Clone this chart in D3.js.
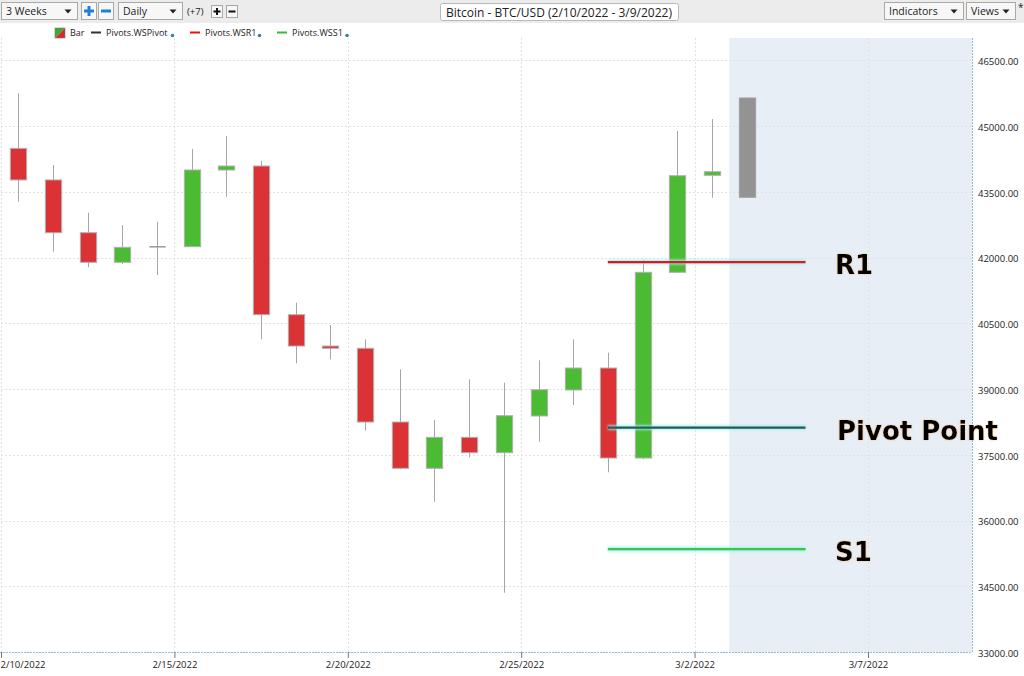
<!DOCTYPE html>
<html><head><meta charset="utf-8">
<script src="https://cdn.jsdelivr.net/npm/d3@7"></script>
<style>
html,body{margin:0;padding:0;background:#fff;}
svg{display:block;}
</style></head>
<body>
<svg id="c" width="1024" height="676"></svg>
<script>
// ---- data ----
const dates = ["2022-02-10","2022-02-11","2022-02-12","2022-02-13","2022-02-14","2022-02-15","2022-02-16","2022-02-17","2022-02-18","2022-02-19","2022-02-20","2022-02-21","2022-02-22","2022-02-23","2022-02-24","2022-02-25","2022-02-26","2022-02-27","2022-02-28","2022-03-01","2022-03-02","2022-03-03"];
const opens  = [44490,43770,42566,41891,42245,42247,43997,44088,40696,39981,39929,38247,37191,37898,37547,38385,38978,39479,37426,41663,43876,43374];
const highs  = [45747,44110,43023,42742,42817,44476,44773,44202,40969,40461,40134,39450,38293,39222,39144,39655,40134,39829,41943,44887,45160,45640];
const lows   = [43274,42133,41777,41852,41601,42240,43388,40134,39587,39678,38049,37168,36429,37442,34353,37798,38635,37100,37396,41663,43365,43374];
const closes = [43770,42566,41891,42233,42245,43997,44088,40696,39981,39929,38247,37191,37898,37547,38391,38984,39479,37426,41663,43867,43958,45640];
const pending = [false,false,false,false,false,false,false,false,false,false,false,false,false,false,false,false,false,false,false,false,false,true];
const pivotNames = ["R1","Pivot Point","S1"];
const pivotValues = [41897,38121,35345];
const pivotStart = "2022-02-27";
const pivotEnd = "2022-03-05";
const yTicks = [33000,34500,36000,37500,39000,40500,42000,43500,45000,46500];
const xTicks = ["2022-02-10","2022-02-15","2022-02-20","2022-02-25","2022-03-02","2022-03-07"];
const legendItems = ["Bar","Pivots.WSPivot","Pivots.WSR1","Pivots.WSS1"];
const futureStart = "2022-03-03";

// ---- setup ----
const svg = d3.select("#c");
const parse = d3.timeParse("%Y-%m-%d");
const fmtX = d3.timeFormat("%-m/%-d/%Y");
const plotL = 1, plotR = 972, plotT = 38, plotB = 652;
const x = d3.scaleTime().domain([parse("2022-02-10"), parse("2022-03-10")]).range([plotL, plotR]);
const y = d3.scaleLinear().domain([33000, 46500]).range([652, 60.3]);
const day = x(parse("2022-02-11")) - x(parse("2022-02-10"));
const bodyW = day * 0.47;
const mid = d => d3.timeHour.offset(parse(d), 12);

const defs = svg.append("defs");
const blur = defs.append("filter").attr("id","blur").attr("filterUnits","userSpaceOnUse")
  .attr("x",0).attr("y",0).attr("width",1024).attr("height",676);
blur.append("feGaussianBlur").attr("stdDeviation","1.3");

const halo = defs.append("filter").attr("id","halo").attr("x","-10%").attr("y","-20%").attr("width","120%").attr("height","140%");
halo.append("feGaussianBlur").attr("in","SourceAlpha").attr("stdDeviation","0.8").attr("result","b");
halo.append("feFlood").attr("flood-color","#f0a050").attr("flood-opacity","0.55");
halo.append("feComposite").attr("in2","b").attr("operator","in").attr("result","g");
const hm = halo.append("feMerge");
hm.append("feMergeNode").attr("in","g");
hm.append("feMergeNode").attr("in","SourceGraphic");

// ---- toolbar ----
svg.append("rect").attr("x",0).attr("y",0).attr("width",1024).attr("height",23).attr("fill","#ececec");
const tb = svg.append("g").attr("font-family","'Open Sans', 'Noto Sans', sans-serif").attr("font-size",10.5).attr("fill","#222");
function dropdown(x0, w, label, arrowX){
  tb.append("rect").attr("x",x0+0.5).attr("y",2.5).attr("width",w).attr("height",17).attr("fill","#f7f7f7").attr("stroke","#a9a9a9");
  tb.append("text").attr("x",x0+5).attr("y",15).text(label);
  const ax = x0 + (arrowX || (w-9));
  tb.append("path").attr("d",`M${ax-3.5},9.5 L${ax+3.5},9.5 L${ax},13.5 Z`).attr("fill","#222");
}
dropdown(1,76,"3 Weeks");
dropdown(118,64,"Daily");
dropdown(884,79,"Indicators");
dropdown(966,49,"Views",40);
tb.append("text").attr("x",1018).attr("y",11).attr("font-size",10).text("*");
function btn(x0,sym,col){
  tb.append("rect").attr("x",x0+0.5).attr("y",2.5).attr("width",15).attr("height",17).attr("fill","#f7f7f7").attr("stroke","#a9a9a9");
  const cx = x0+8, cy = 11;
  tb.append("rect").attr("x",cx-5).attr("y",cy-1.5).attr("width",10).attr("height",3).attr("fill",col);
  if(sym==="+") tb.append("rect").attr("x",cx-1.5).attr("y",cy-5).attr("width",3).attr("height",10).attr("fill",col);
}
btn(81,"+","#1e7fd6");
btn(98,"-","#1e7fd6");
tb.append("text").attr("x",187).attr("y",15).attr("font-size",9.5).text("(+7)");
function smallBtn(x0,sym){
  tb.append("rect").attr("x",x0+0.5).attr("y",5.5).attr("width",11).attr("height",12).attr("fill","#f7f7f7").attr("stroke","#a9a9a9");
  const cx=x0+6, cy=11.5;
  tb.append("rect").attr("x",cx-3.5).attr("y",cy-1).attr("width",7).attr("height",2).attr("fill","#111");
  if(sym==="+") tb.append("rect").attr("x",cx-1).attr("y",cy-3.5).attr("width",2).attr("height",7).attr("fill","#111");
}
smallBtn(211,"+");
smallBtn(226,"-");
tb.append("rect").attr("x",440.5).attr("y",3.5).attr("width",238).attr("height",17).attr("rx",2).attr("fill","#fff").attr("stroke","#b8b8b8");
tb.append("text").attr("x",559).attr("y",16.5).attr("text-anchor","middle").attr("font-size",12).text("Bitcoin - BTC/USD (2/10/2022 - 3/9/2022)");

// ---- plot background ----
svg.append("rect").attr("x",x(parse(futureStart))).attr("y",plotT).attr("width",plotR - x(parse(futureStart))).attr("height",plotB-plotT).attr("fill","#e8eef5");

// gridlines
const grid = svg.append("g").attr("stroke","#e2e2e2").attr("stroke-dasharray","2,2").attr("stroke-width",1);
yTicks.forEach(t=>{
  grid.append("line").attr("x1",plotL).attr("x2",plotR).attr("y1",Math.round(y(t))+0.5).attr("y2",Math.round(y(t))+0.5);
});
xTicks.forEach(t=>{
  const xx = Math.round(x(parse(t)))+0.5;
  grid.append("line").attr("x1",xx).attr("x2",xx).attr("y1",plotT).attr("y2",plotB);
});
svg.append("line").attr("x1",plotR+0.5).attr("x2",plotR+0.5).attr("y1",plotT).attr("y2",plotB).attr("stroke","#8fbde6").attr("stroke-dasharray","2,1");
svg.append("line").attr("x1",0).attr("x2",plotR).attr("y1",plotB+0.5).attr("y2",plotB+0.5).attr("stroke","#8fbde6").attr("stroke-dasharray","2,1");

// axes via d3
const xAxis = d3.axisBottom(x).tickValues(xTicks.map(parse)).tickFormat(fmtX).tickSize(6).tickPadding(3);
const gx = svg.append("g").attr("transform",`translate(0,${plotB})`).call(xAxis);
gx.select(".domain").remove();
gx.selectAll(".tick line").attr("stroke","#777");
gx.selectAll("text").attr("font-family","'Open Sans','Noto Sans',sans-serif").attr("font-size",9.5).attr("fill","#222");
gx.selectAll("text").filter((d,i)=>i===0).attr("text-anchor","start").attr("x",-1);

const yAxis = d3.axisRight(y).tickValues(yTicks).tickFormat(d3.format(".2f")).tickSize(0).tickPadding(6);
const gy = svg.append("g").attr("transform",`translate(${plotR},0)`).call(yAxis);
gy.select(".domain").remove();
gy.selectAll("text").attr("font-family","'Open Sans','Noto Sans',sans-serif").attr("font-size",9.5).attr("fill","#222").attr("dy","0.45em");

// ---- candles ----
const data = dates.map((d,i)=>({d, o:opens[i], h:highs[i], l:lows[i], c:closes[i], p:pending[i]}));
const cg = svg.append("g");
data.forEach(k=>{
  const cx = Math.round(x(mid(k.d)))+0.5;
  if(!k.p){
    cg.append("line").attr("x1",cx).attr("x2",cx).attr("y1",y(k.h)).attr("y2",y(k.l)).attr("stroke","#a6a6a6").attr("stroke-width",1);
  }
  const top = y(Math.max(k.o,k.c)), bot = y(Math.min(k.o,k.c));
  let fill = k.c > k.o ? "#4cbb34" : "#db3236";
  if(k.p) fill = "#939393";
  if(k.c === k.o){
    cg.append("line").attr("x1",cx-bodyW/2).attr("x2",cx+bodyW/2).attr("y1",top).attr("y2",top).attr("stroke","#999").attr("stroke-width",1.5);
  } else {
    cg.append("rect").attr("x",cx-bodyW/2).attr("y",top).attr("width",bodyW).attr("height",Math.max(bot-top,2))
      .attr("fill",fill).attr("stroke",k.p?"#a0a0a0":"#b0b0b0").attr("stroke-width",1);
  }
});

// ---- pivot lines ----
const pColors = ["#e8141c","#2f5555","#44c044"];
const px1 = x(mid(pivotStart)), px2 = x(parse(pivotEnd)) + day*0.2;
const pg = svg.append("g");
pivotValues.forEach((v,i)=>{
  pg.append("line").attr("x1",px1).attr("x2",px2).attr("y1",y(v)).attr("y2",y(v))
    .attr("stroke","#8ff5f5").attr("stroke-width",5).attr("stroke-opacity",0.8).attr("filter","url(#blur)");
  pg.append("line").attr("x1",px1).attr("x2",px2).attr("y1",y(v)).attr("y2",y(v))
    .attr("stroke",pColors[i]).attr("stroke-width",2.2);
});
const lbl = svg.append("g").attr("font-family","'DejaVu Sans', Verdana, sans-serif").attr("font-weight","bold").attr("font-size",26).attr("fill","#000");
pivotValues.forEach((v,i)=>{
  lbl.append("text").attr("x",i===1?837:835).attr("y",y(v)+12).text(pivotNames[i]).attr("filter","url(#halo)");
});

// ---- legend ----
const lg = svg.append("g").attr("font-family","'Open Sans','Noto Sans',sans-serif").attr("font-size",9).attr("fill","#222");
lg.append("path").attr("d","M55,28 L65,28 L55,38 Z").attr("fill","#3aaa35");
lg.append("path").attr("d","M65,28 L65,38 L55,38 Z").attr("fill","#d42a2a");
lg.append("rect").attr("x",55).attr("y",28).attr("width",10).attr("height",10).attr("fill","none").attr("stroke","#777").attr("stroke-width",0.6);
lg.append("text").attr("x",70).attr("y",36).text(legendItems[0]);
const legLines = [{x:91,c:"#333",t:legendItems[1],tx:106,dot:172.5},{x:190,c:"#ee1111",t:legendItems[2],tx:205,dot:259.5},{x:277,c:"#33bb33",t:legendItems[3],tx:292,dot:347}];
legLines.forEach(L=>{
  lg.append("line").attr("x1",L.x).attr("x2",L.x+10).attr("y1",32.5).attr("y2",32.5).attr("stroke",L.c).attr("stroke-width",2);
  lg.append("text").attr("x",L.tx).attr("y",36).text(L.t);
  lg.append("circle").attr("cx",L.dot).attr("cy",35.5).attr("r",1.8).attr("fill","#3d7fa3");
});
</script>
</body></html>
